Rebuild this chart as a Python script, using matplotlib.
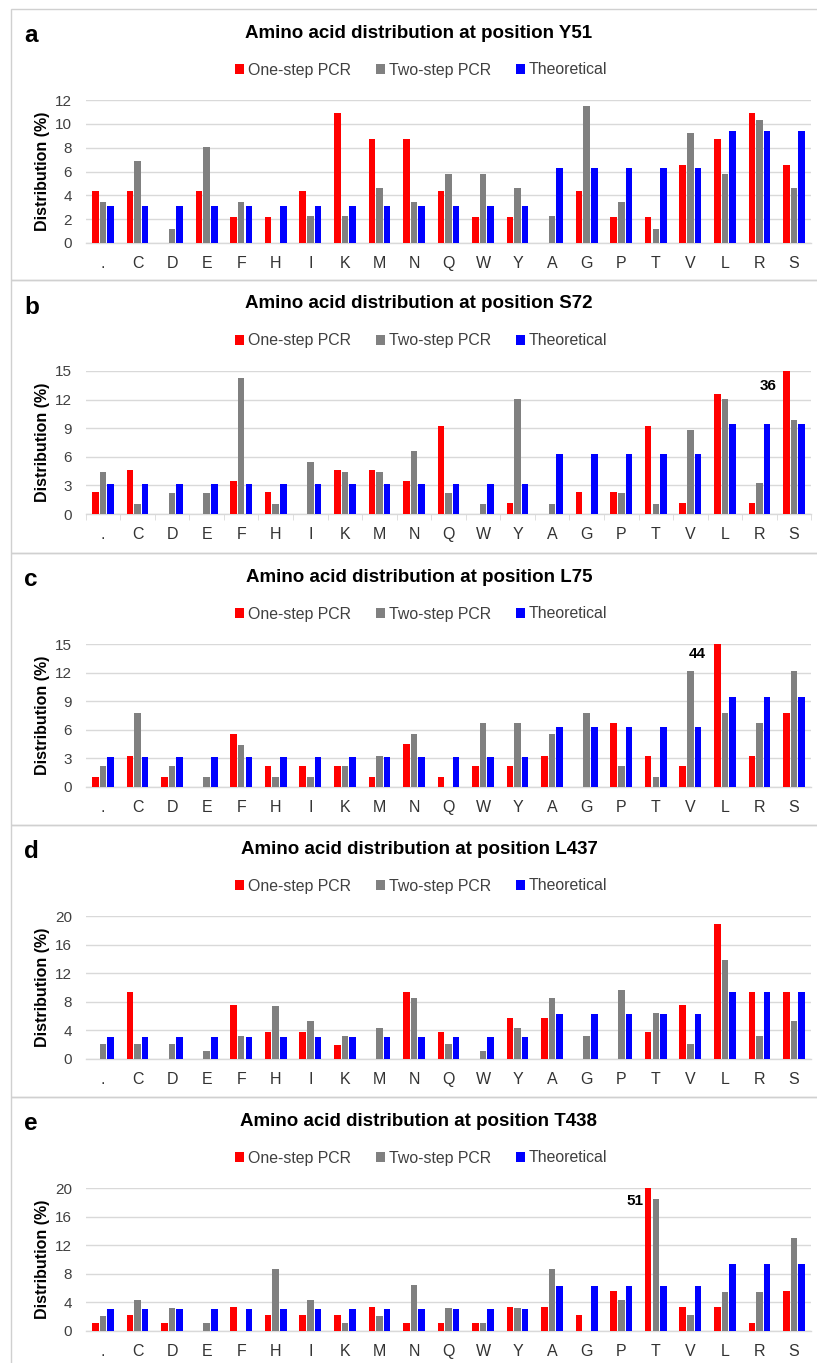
import numpy as np
import matplotlib.pyplot as plt
from matplotlib.patches import Rectangle


# =========================
# Data
# =========================

amino_acids = [".", "C", "D", "E", "F", "H", "I", "K", "M", "N", "Q",
               "W", "Y", "A", "G", "P", "T", "V", "L", "R", "S"]

theoretical = [3.1, 3.1, 3.1, 3.1, 3.1, 3.1, 3.1, 3.1, 3.1, 3.1, 3.1,
               3.1, 3.1, 6.3, 6.3, 6.3, 6.3, 6.3, 9.4, 9.4, 9.4]

# position Y51
y51_one = [4.35, 4.35, 0, 4.35, 2.17, 2.17, 4.35, 10.87, 8.7, 8.7, 4.35,
           2.17, 2.17, 0, 4.35, 2.17, 2.17, 6.52, 8.7, 10.87, 6.52]
y51_two = [3.45, 6.9, 1.15, 8.05, 3.45, 0, 2.3, 2.3, 4.6, 3.45, 5.75,
           5.75, 4.6, 2.3, 11.49, 3.45, 1.15, 9.2, 5.75, 10.34, 4.6]

# position S72
s72_one = [2.3, 4.6, 0, 0, 3.45, 2.3, 0, 4.6, 4.6, 3.45, 9.2,
           0, 1.15, 0, 2.3, 2.3, 9.2, 1.15, 12.6, 1.15, 36]
s72_two = [4.4, 1.1, 2.2, 2.2, 14.3, 1.1, 5.5, 4.4, 4.4, 6.6, 2.2,
           1.1, 12.1, 1.1, 0, 2.2, 1.1, 8.8, 12.1, 3.3, 9.9]

# position L75
l75_one = [1.1, 3.3, 1.1, 0, 5.6, 2.2, 2.2, 2.2, 1.1, 4.5, 1.1,
           2.2, 2.2, 3.3, 0, 6.7, 3.3, 2.2, 44, 3.3, 7.8]
l75_two = [2.2, 7.8, 2.2, 1.1, 4.4, 1.1, 1.1, 2.2, 3.3, 5.6, 0,
           6.7, 6.7, 5.6, 7.8, 2.2, 1.1, 12.2, 7.8, 6.7, 12.2]

# position L437
l437_one = [0, 9.4, 0, 0, 7.5, 3.8, 3.8, 1.9, 0, 9.4, 3.8,
            0, 5.7, 5.7, 0, 0, 3.8, 7.5, 18.9, 9.4, 9.4]
l437_two = [2.1, 2.1, 2.1, 1.1, 3.2, 7.4, 5.3, 3.2, 4.3, 8.5, 2.1,
            1.1, 4.3, 8.5, 3.2, 9.6, 6.4, 2.1, 13.8, 3.2, 5.3]

# position T438
t438_one = [1.1, 2.2, 1.1, 0, 3.3, 2.2, 2.2, 2.2, 3.3, 1.1, 1.1,
            1.1, 3.3, 3.3, 2.2, 5.6, 51, 3.3, 3.3, 1.1, 5.6]
t438_two = [2.1, 4.3, 3.2, 1.1, 0, 8.7, 4.3, 1.1, 2.1, 6.5, 3.2,
            1.1, 3.2, 8.7, 0, 4.3, 18.5, 2.2, 5.4, 5.4, 13.0]

panel_letters = ["a", "b", "c", "d", "e"]
positions = ["Y51", "S72", "L75", "L437", "T438"]
one_step = [y51_one, s72_one, l75_one, l437_one, t438_one]
two_step = [y51_two, s72_two, l75_two, l437_two, t438_two]
y_max = [12, 15, 15, 20, 20]
y_step = [2, 3, 3, 4, 4]


# =========================
# Style
# =========================

plt.rcParams["font.family"] = ["Liberation Sans", "DejaVu Sans"]

red = "#FF0000"
gray = "#808080"
blue = "#0000FF"
grid_col = "#D9D9D9"

W, H = 817, 1363
panel_tops = [9, 280, 553, 825, 1097]

fig = plt.figure(figsize=(W / 100, H / 100), dpi=100)

x = np.arange(len(amino_acids))
bw = 0.19
off = 0.22


for k in range(5):

    top = panel_tops[k]

    # panel frame
    bottom_edge = panel_tops[k + 1] if k < 4 else H + 5
    fig.patches.append(
        Rectangle((11 / W, 1 - bottom_edge / H),
                  (W + 5 - 11) / W, (bottom_edge - top) / H,
                  transform=fig.transFigure, fill=False,
                  edgecolor="#D0D0D0", linewidth=1.0)
    )

    # plot area
    ax_top = top + 91
    ax_h = 143
    ax_left = 85.7
    ax_right = 811.3
    ax = fig.add_axes([ax_left / W, 1 - (ax_top + ax_h) / H,
                       (ax_right - ax_left) / W, ax_h / H])

    ax.bar(x - off, one_step[k], bw, color=red, label="One-step PCR", zorder=3)
    ax.bar(x, two_step[k], bw, color=gray, label="Two-step PCR", zorder=3)
    ax.bar(x + off, theoretical, bw, color=blue, label="Theoretical", zorder=3)

    ax.set_xlim(-0.5, len(amino_acids) - 0.5)
    ax.set_ylim(0, y_max[k])
    ax.set_yticks(np.arange(0, y_max[k] + 1, y_step[k]))
    ax.set_xticks(x)
    ax.set_xticklabels(amino_acids, va="baseline")

    ax.grid(axis="y", color=grid_col, linewidth=1.0, zorder=0)
    for s in ["top", "right", "left"]:
        ax.spines[s].set_visible(False)
    ax.spines["bottom"].set_color(grid_col)
    ax.spines["bottom"].set_linewidth(1.0)

    ax.tick_params(axis="y", length=0, labelsize=11, labelcolor="#404040", pad=10)
    ax.tick_params(axis="x", length=0, labelsize=11.5, labelcolor="#333333", pad=18)

    if k == 1:
        ax.set_xticks(np.arange(-0.5, len(amino_acids), 1), minor=True)
        ax.tick_params(axis="x", which="minor", length=4, color=grid_col)

    ax.set_ylabel("Distribution (%)", fontsize=11.5, fontweight="bold")
    ax.yaxis.set_label_coords(-0.049, 0.5)

    # title, letter, legend
    fig.text(419 / W, 1 - (top + 24) / H,
             "Amino acid distribution at position " + positions[k],
             ha="center", va="center", fontsize=13.5, fontweight="bold")
    fig.text(24 / W, 1 - (top + 27) / H, panel_letters[k],
             ha="left", va="center", fontsize=17.5, fontweight="bold")

    ax.legend(loc="center", bbox_to_anchor=(421 / W, 1 - (top + 61) / H),
              bbox_transform=fig.transFigure, ncol=3, frameon=False,
              fontsize=11.4, handlelength=0.6, handleheight=0.6,
              handletextpad=0.2, columnspacing=1.6, labelcolor="#404040")


# =========================
# Off-scale labels
# =========================

fig.axes[1].text(19.5, 13.4, "36", ha="right", va="center",
                 fontsize=11, fontweight="bold")
fig.axes[2].text(17.45, 13.9, "44", ha="right", va="center",
                 fontsize=11, fontweight="bold")
fig.axes[4].text(15.63, 18.2, "51", ha="right", va="center",
                 fontsize=11, fontweight="bold")


plt.savefig("out.png", dpi=100)
